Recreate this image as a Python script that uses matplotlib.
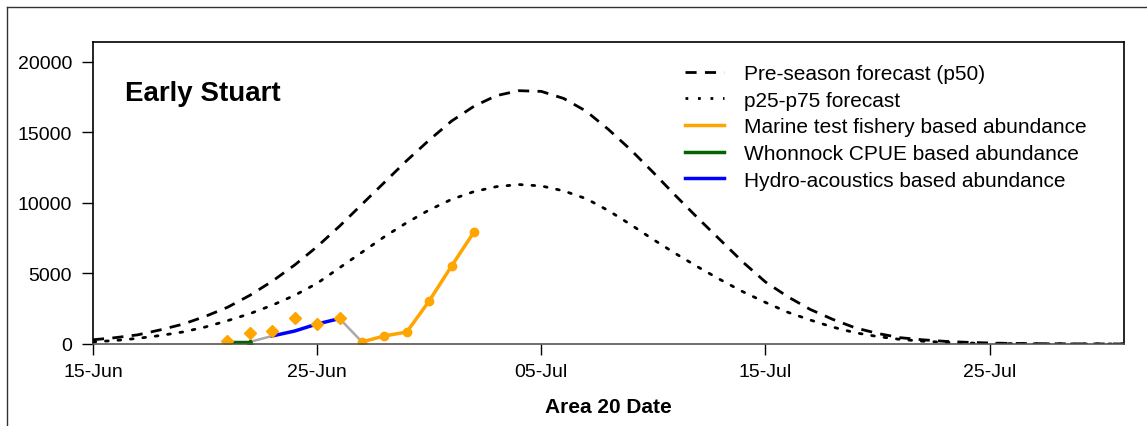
import numpy as np
import pandas as pd
import matplotlib
matplotlib.use("Agg")
import matplotlib.pyplot as plt
import matplotlib.dates as mdates
from matplotlib.lines import Line2D

plt.rcParams['font.family'] = ['Liberation Sans', 'DejaVu Sans']

# Pre-season forecast, daily from 15-Jun to 31-Jul
forecast_dates = pd.date_range("2023-06-15", "2023-07-31", freq="D")
p50 = [300, 450, 650, 1000, 1400, 1950, 2600, 3450, 4450, 5600,
       6900, 8350, 9900, 11450, 13000, 14450, 15800, 16850, 17600, 17950,
       17900, 17400, 16500, 15200, 13750, 12150, 10500, 8900, 7350, 5800,
       4400, 3350, 2450, 1750, 1150, 750, 450, 300, 190, 120,
       70, 40, 25, 15, 10, 5, 3]
p25_p75 = [150, 250, 400, 600, 850, 1200, 1650, 2150, 2750, 3450,
           4300, 5400, 6500, 7600, 8600, 9500, 10250, 10800, 11150, 11300,
           11200, 10850, 10300, 9450, 8450, 7400, 6400, 5450, 4550, 3700,
           2950, 2250, 1700, 1200, 800, 530, 330, 200, 120, 70,
           40, 25, 15, 10, 5, 3, 2]

# In-season estimates
whonnock_dates = pd.to_datetime(["2023-06-21", "2023-06-22"])
whonnock_vals = [150, 150]

hydro_dates = pd.to_datetime(["2023-06-23", "2023-06-24", "2023-06-25", "2023-06-26"])
hydro_vals = [570, 920, 1420, 1800]

marine_pts_dates = pd.to_datetime(["2023-06-21", "2023-06-22", "2023-06-23",
                                   "2023-06-24", "2023-06-25", "2023-06-26"])
marine_pts_vals = [200, 780, 920, 1840, 1420, 1840]

marine_dates = pd.to_datetime(["2023-06-27", "2023-06-28", "2023-06-29",
                               "2023-06-30", "2023-07-01", "2023-07-02"])
marine_vals = [150, 570, 850, 3050, 5530, 7940]

# gray connectors between the different estimate types
gap1_dates = pd.to_datetime(["2023-06-22", "2023-06-23"])
gap1_vals = [150, 570]
gap2_dates = pd.to_datetime(["2023-06-26", "2023-06-27"])
gap2_vals = [1800, 150]

orange = "#FFA500"
green = "#006400"
blue = "#0000FF"

fig = plt.figure(figsize=(11.47, 4.27), dpi=100)
ax = fig.add_axes([93 / 1147, 1 - 345 / 427, (1124 - 93) / 1147, (345 - 43) / 427])

# outer frame (left and top edges visible)
fig.add_artist(Line2D([7 / 1147, 7 / 1147], [0, 1 - 8 / 427], transform=fig.transFigure,
                      color="#333333", lw=1))
fig.add_artist(Line2D([7 / 1147, 1], [1 - 8 / 427, 1 - 8 / 427], transform=fig.transFigure,
                      color="#333333", lw=1))

ax.plot(forecast_dates, p50, color="black", lw=2, dashes=(4, 3))
ax.plot(forecast_dates, p25_p75, color="black", lw=2, dashes=(1, 3.5), dash_capstyle="round")

ax.plot(gap1_dates, gap1_vals, color="#A9A9A9", lw=1.8)
ax.plot(gap2_dates, gap2_vals, color="#A9A9A9", lw=1.8)
ax.plot(whonnock_dates, whonnock_vals, color=green, lw=2.5, marker="^", ms=5)
ax.plot(hydro_dates, hydro_vals, color=blue, lw=2.5)
ax.plot(marine_pts_dates, marine_pts_vals, ls="none", color=orange, marker="D", ms=6)
ax.plot(marine_dates, marine_vals, color=orange, lw=2.5, marker="o", ms=6)

ax.set_xlim(pd.Timestamp("2023-06-15"), pd.Timestamp("2023-07-31"))
ax.set_ylim(0, 21400)
ax.set_yticks([0, 5000, 10000, 15000, 20000])
ax.xaxis.set_major_locator(mdates.DayLocator(bymonthday=[5, 15, 25]))
ax.xaxis.set_major_formatter(mdates.DateFormatter("%d-%b"))
ax.tick_params(axis="both", direction="out", length=8, width=1, labelsize=14, pad=6)
ax.tick_params(axis="y", pad=7)
for s in ax.spines.values():
    s.set_linewidth(1.2)
ax.spines["bottom"].set_color("#555555")

ax.set_xlabel("Area 20 Date", fontsize=15, fontweight="bold", labelpad=12)
ax.text(0.031, 0.83, "Early Stuart", transform=ax.transAxes, fontsize=20,
        fontweight="bold", ha="left", va="center")

handles = [
    Line2D([], [], color="black", lw=2, dashes=(4, 3)),
    Line2D([], [], color="black", lw=2, dashes=(1, 3.5)),
    Line2D([], [], color=orange, lw=2.5),
    Line2D([], [], color=green, lw=2.5),
    Line2D([], [], color=blue, lw=2.5),
]
labels = ["Pre-season forecast (p50)", "p25-p75 forecast",
          "Marine test fishery based abundance", "Whonnock CPUE based abundance",
          "Hydro-acoustics based abundance"]
ax.legend(handles, labels, loc="upper left", bbox_to_anchor=(0.566, 0.955),
          frameon=False, fontsize=15, handlelength=1.9, handletextpad=0.95,
          labelspacing=0.37, borderaxespad=0)

fig.savefig("out.png", dpi=100)
